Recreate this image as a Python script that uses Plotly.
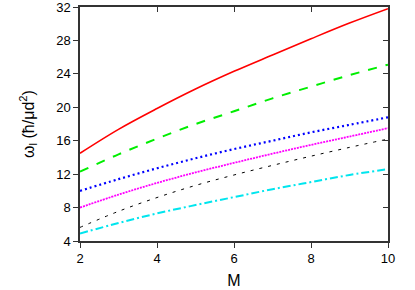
import plotly.graph_objects as go

M = [2, 3, 4, 5, 6, 7, 8, 9, 10]
red_vals = [14.5, 17.36, 19.85, 22.18, 24.3, 26.26, 28.2, 30.08, 31.8]
green_vals = [12.3, 14.37, 16.25, 17.99, 19.52, 21.07, 22.47, 23.85, 25.1]
blue_vals = [10.0, 11.4, 12.7, 13.9, 15.0, 16.0, 17.0, 17.9, 18.8]
magenta_vals = [8.0, 9.55, 10.95, 12.2, 13.35, 14.45, 15.5, 16.5, 17.5]
black_vals = [5.63, 7.55, 9.2, 10.65, 11.9, 13.05, 14.15, 15.2, 16.2]
cyan_vals = [4.9, 6.15, 7.3, 8.3, 9.25, 10.2, 11.05, 11.9, 12.6]

x_ticks = [2, 4, 6, 8, 10]
y_ticks = [4, 8, 12, 16, 20, 24, 28, 32]

series = [
    (red_vals, "#ff0000", "solid", 1.6),
    (green_vals, "#00ee00", "dash", 2),
    (blue_vals, "#0000ff", "2px,3px", 2.2),
    (magenta_vals, "#ff00ff", "2px,1px", 1.8),
    (black_vals, "#000000", "3px,6px", 1),
    (cyan_vals, "#00e5ee", "8px,3px,2px,3px", 2),
]

fig = go.Figure()
for vals, col, dash, w in series:
    fig.add_trace(go.Scatter(x=M, y=vals, mode="lines", line=dict(color=col, dash=dash, width=w, shape="spline"),
                             showlegend=False, hoverinfo="skip"))

# invisible trace for mirrored axes
fig.add_trace(go.Scatter(x=[2], y=[4], xaxis="x2", yaxis="y2", mode="markers", marker=dict(opacity=0),
                         showlegend=False, hoverinfo="skip"))

font = dict(family="Liberation Sans, Arial, sans-serif", size=13, color="#000")
fig.update_layout(
    width=415, height=290,
    margin=dict(l=80, r=27, t=7, b=49, autoexpand=False),
    paper_bgcolor="white", plot_bgcolor="white",
    font=font,
    xaxis=dict(range=[2, 10], tickvals=x_ticks, ticks="outside", ticklen=5, tickwidth=1.2, tickcolor="#333",
               showline=True, mirror=True, linecolor="#333", linewidth=1.5, showgrid=False, zeroline=False,
               title=dict(text="M", standoff=9), tickfont=font, ticklabeloverflow="allow"),
    yaxis=dict(range=[4, 32], tickvals=y_ticks, ticks="outside", ticklen=5, tickwidth=1.2, tickcolor="#333",
               showline=True, mirror=True, linecolor="#333", linewidth=1.5, showgrid=False, zeroline=False,
               title=dict(text="ω<sub>l</sub> (ħ/μd<sup>2</sup>)", standoff=18), tickfont=font,
               ticklabeloverflow="allow"),
    xaxis2=dict(range=[2, 10], tickvals=x_ticks, overlaying="x", side="top", ticks="inside", ticklen=5,
                tickcolor="#333", showticklabels=False, showline=False,
                showgrid=False, zeroline=False),
    yaxis2=dict(range=[4, 32], tickvals=y_ticks, overlaying="y", side="right", ticks="inside", ticklen=5,
                tickcolor="#333", showticklabels=False, showline=False,
                showgrid=False, zeroline=False),
)

fig.write_html("out.html", config={"displayModeBar": False},
               post_script="document.body.style.margin='0';document.body.style.padding='0';")
